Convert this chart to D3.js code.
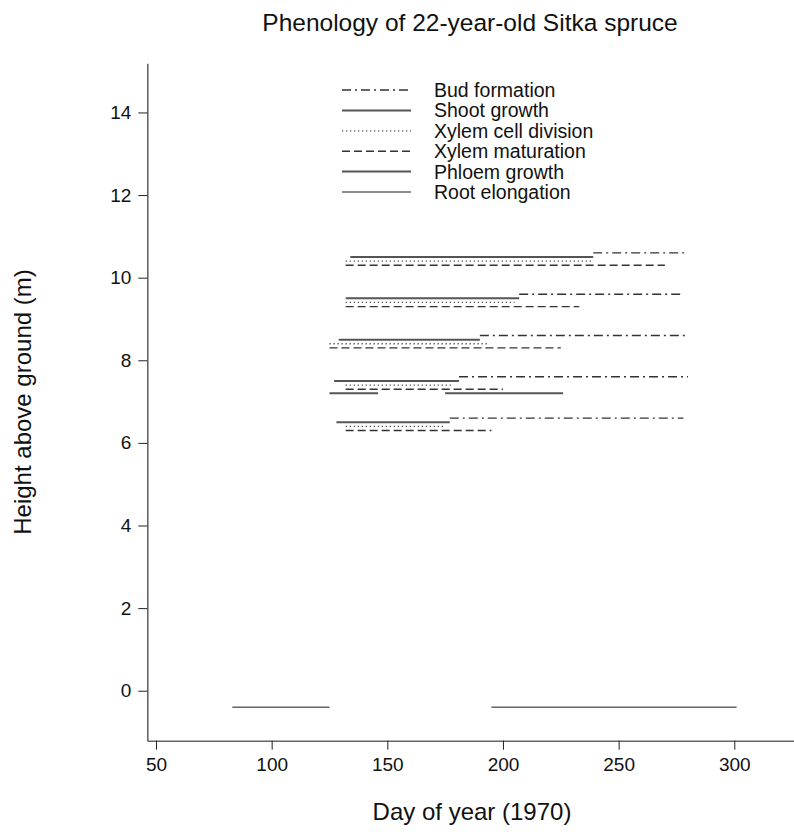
<!DOCTYPE html>
<html>
<head>
<meta charset="utf-8">
<script src="https://cdn.jsdelivr.net/npm/d3@7"></script>
<style>
  html, body { margin: 0; padding: 0; background: #fff; }
  svg { display: block; font-family: "Liberation Sans", Arial, Helvetica, sans-serif; }
</style>
</head>
<body>
<svg id="chart" width="794" height="832"></svg>
<script>
// Phenophase intervals: [height (m), first day, last day]
const budFormation = [
  [10.6, 239, 280], [9.6, 207, 278], [8.6, 190, 280], [7.6, 181, 280], [6.6, 177, 278]
];
const shootGrowth = [
  [10.5, 134, 239], [9.5, 132, 207], [8.5, 129, 190], [7.5, 127, 181], [6.5, 128, 177]
];
const xylemDivision = [
  [10.4, 132, 239], [9.4, 132, 205], [8.4, 125, 194], [7.4, 132, 178], [6.4, 132, 175]
];
const xylemMaturation = [
  [10.3, 132, 270], [9.3, 132, 233], [8.3, 125, 225], [7.3, 132, 200], [6.3, 132, 195]
];
const phloemGrowth = [
  [7.2, 125, 146], [7.2, 175, 226]
];
const rootElongation = [
  [-0.4, 83, 125], [-0.4, 195, 301]
];

const seriesNames = ["Bud formation", "Shoot growth", "Xylem cell division",
                     "Xylem maturation", "Phloem growth", "Root elongation"];
const xTicks = [50, 100, 150, 200, 250, 300];
const yTicks = [0, 2, 4, 6, 8, 10, 12, 14];

// line style per phenophase
const styles = [
  { color: "#333", width: 1.4, dash: "9,4,2,4" },
  { color: "#555", width: 2.0, dash: null },
  { color: "#555", width: 1.3, dash: "1.3,2.7" },
  { color: "#333", width: 1.4, dash: "8,4" },
  { color: "#555", width: 2.0, dash: null },
  { color: "#666", width: 1.5, dash: null }
];
const allSeries = [budFormation, shootGrowth, xylemDivision, xylemMaturation, phloemGrowth, rootElongation];

const svg = d3.select("#chart");
const plotLeft = 147.3, plotRight = 800, plotTop = 63.3, plotBottom = 740.7;

const x = d3.scaleLinear().domain([46.24, 50 + (plotRight - 156) / 2.3132]).range([plotLeft, plotRight]);
const y = d3.scaleLinear().domain([-1.21, 15.19]).range([plotBottom, plotTop]);

// axes
const xAxis = svg.append("g").attr("transform", `translate(0,${plotBottom})`)
  .call(d3.axisBottom(x).tickValues(xTicks).tickSize(9).tickPadding(8).tickSizeOuter(0));
const yAxis = svg.append("g").attr("transform", `translate(${plotLeft},0)`)
  .call(d3.axisLeft(y).tickValues(yTicks).tickSize(9).tickPadding(7).tickSizeOuter(0));

[xAxis, yAxis].forEach(g => {
  g.select(".domain").attr("stroke", "#666").attr("stroke-width", 1.6);
  g.selectAll(".tick line").attr("stroke", "#222").attr("stroke-width", 1);
  g.selectAll(".tick text").attr("fill", "#111").style("font-size", "19px")
    .style("font-family", "'Liberation Sans', Arial, sans-serif");
});

// phenophase segments
const plot = svg.append("g");
allSeries.forEach((rows, i) => {
  const s = styles[i];
  plot.append("g").selectAll("line").data(rows).join("line")
    .attr("x1", d => x(d[1])).attr("x2", d => x(d[2]))
    .attr("y1", d => y(d[0])).attr("y2", d => y(d[0]))
    .attr("stroke", s.color).attr("stroke-width", s.width)
    .attr("stroke-dasharray", s.dash);
});

// legend
const legend = svg.append("g");
const legY0 = 90, legStep = 20.4;
seriesNames.forEach((name, i) => {
  const s = styles[i];
  const yy = legY0 + i * legStep;
  legend.append("line").attr("x1", 342).attr("x2", 411).attr("y1", yy).attr("y2", yy)
    .attr("stroke", s.color).attr("stroke-width", s.width).attr("stroke-dasharray", s.dash);
  legend.append("text").attr("x", 434).attr("y", yy + 7)
    .attr("fill", "#111").style("font-size", "19.5px").text(name);
});

// titles
svg.append("text").attr("x", 470).attr("y", 31).attr("text-anchor", "middle")
  .attr("fill", "#111").style("font-size", "24.5px").text("Phenology of 22-year-old Sitka spruce");
svg.append("text").attr("x", 472).attr("y", 820).attr("text-anchor", "middle")
  .attr("fill", "#111").style("font-size", "24px").text("Day of year (1970)");
svg.append("text").attr("transform", "translate(31,402) rotate(-90)").attr("text-anchor", "middle")
  .attr("fill", "#111").style("font-size", "24px").text("Height above ground (m)");
</script>
</body>
</html>
